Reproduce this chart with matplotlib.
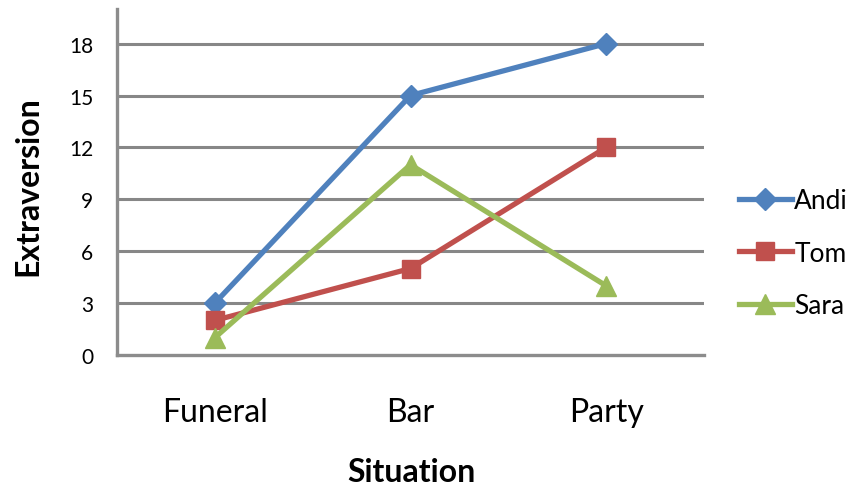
import numpy as np
import matplotlib.pyplot as plt

situations = ['Funeral', 'Bar', 'Party']
andi = [3, 15, 18]
tom = [2, 5, 12]
sara = [1, 11, 4]
yticks = [0, 3, 6, 9, 12, 15, 18]

plt.rcParams['font.family'] = ['Lato', 'DejaVu Sans']

fig = plt.figure(figsize=(8.58, 4.89), dpi=100)
ax = fig.add_axes([117/858, 1-356/489, (704-117)/858, (356-10)/489])

x = np.arange(len(situations))
grid_c = '#878787'
for yv in yticks[1:]:
    ax.axhline(yv, color=grid_c, lw=2.2, zorder=1)

ax.plot(x, andi, color='#4F81BD', lw=3.8, marker='D', ms=11, label='Andi', zorder=3)
ax.plot(x, tom, color='#C0504D', lw=3.8, marker='s', ms=13, label='Tom', zorder=4)
ax.plot(x, sara, color='#9BBB59', lw=3.8, marker='^', ms=15, label='Sara', zorder=5)

ax.set_xlim(-0.5, 2.5)
ax.set_ylim(0, 20)
ax.set_yticks(yticks)
ax.set_xticks(x)
ax.set_xticklabels(situations, fontsize=23)
ax.tick_params(axis='y', length=0, pad=17, labelsize=15)
ax.tick_params(axis='x', length=0, pad=30)

for s in ['top', 'right']:
    ax.spines[s].set_visible(False)
for s in ['left', 'bottom']:
    ax.spines[s].set_color('#8c8c8c')
    ax.spines[s].set_linewidth(2.4)

ax.set_ylabel('Extraversion', fontsize=23, fontweight='bold')
ax.yaxis.set_label_coords(-75/587, (356-186)/346)
ax.set_xlabel('Situation', fontsize=23, fontweight='bold')
ax.xaxis.set_label_coords((411-117)/587, -(458-356)/346)

leg = fig.legend(loc='center left', bbox_to_anchor=(739/858, 1-254/489), frameon=False,
                 fontsize=19, handlelength=2.0, handletextpad=0.1, labelspacing=1.05,
                 borderpad=0, borderaxespad=0)

fig.savefig('out.png', dpi=100)
